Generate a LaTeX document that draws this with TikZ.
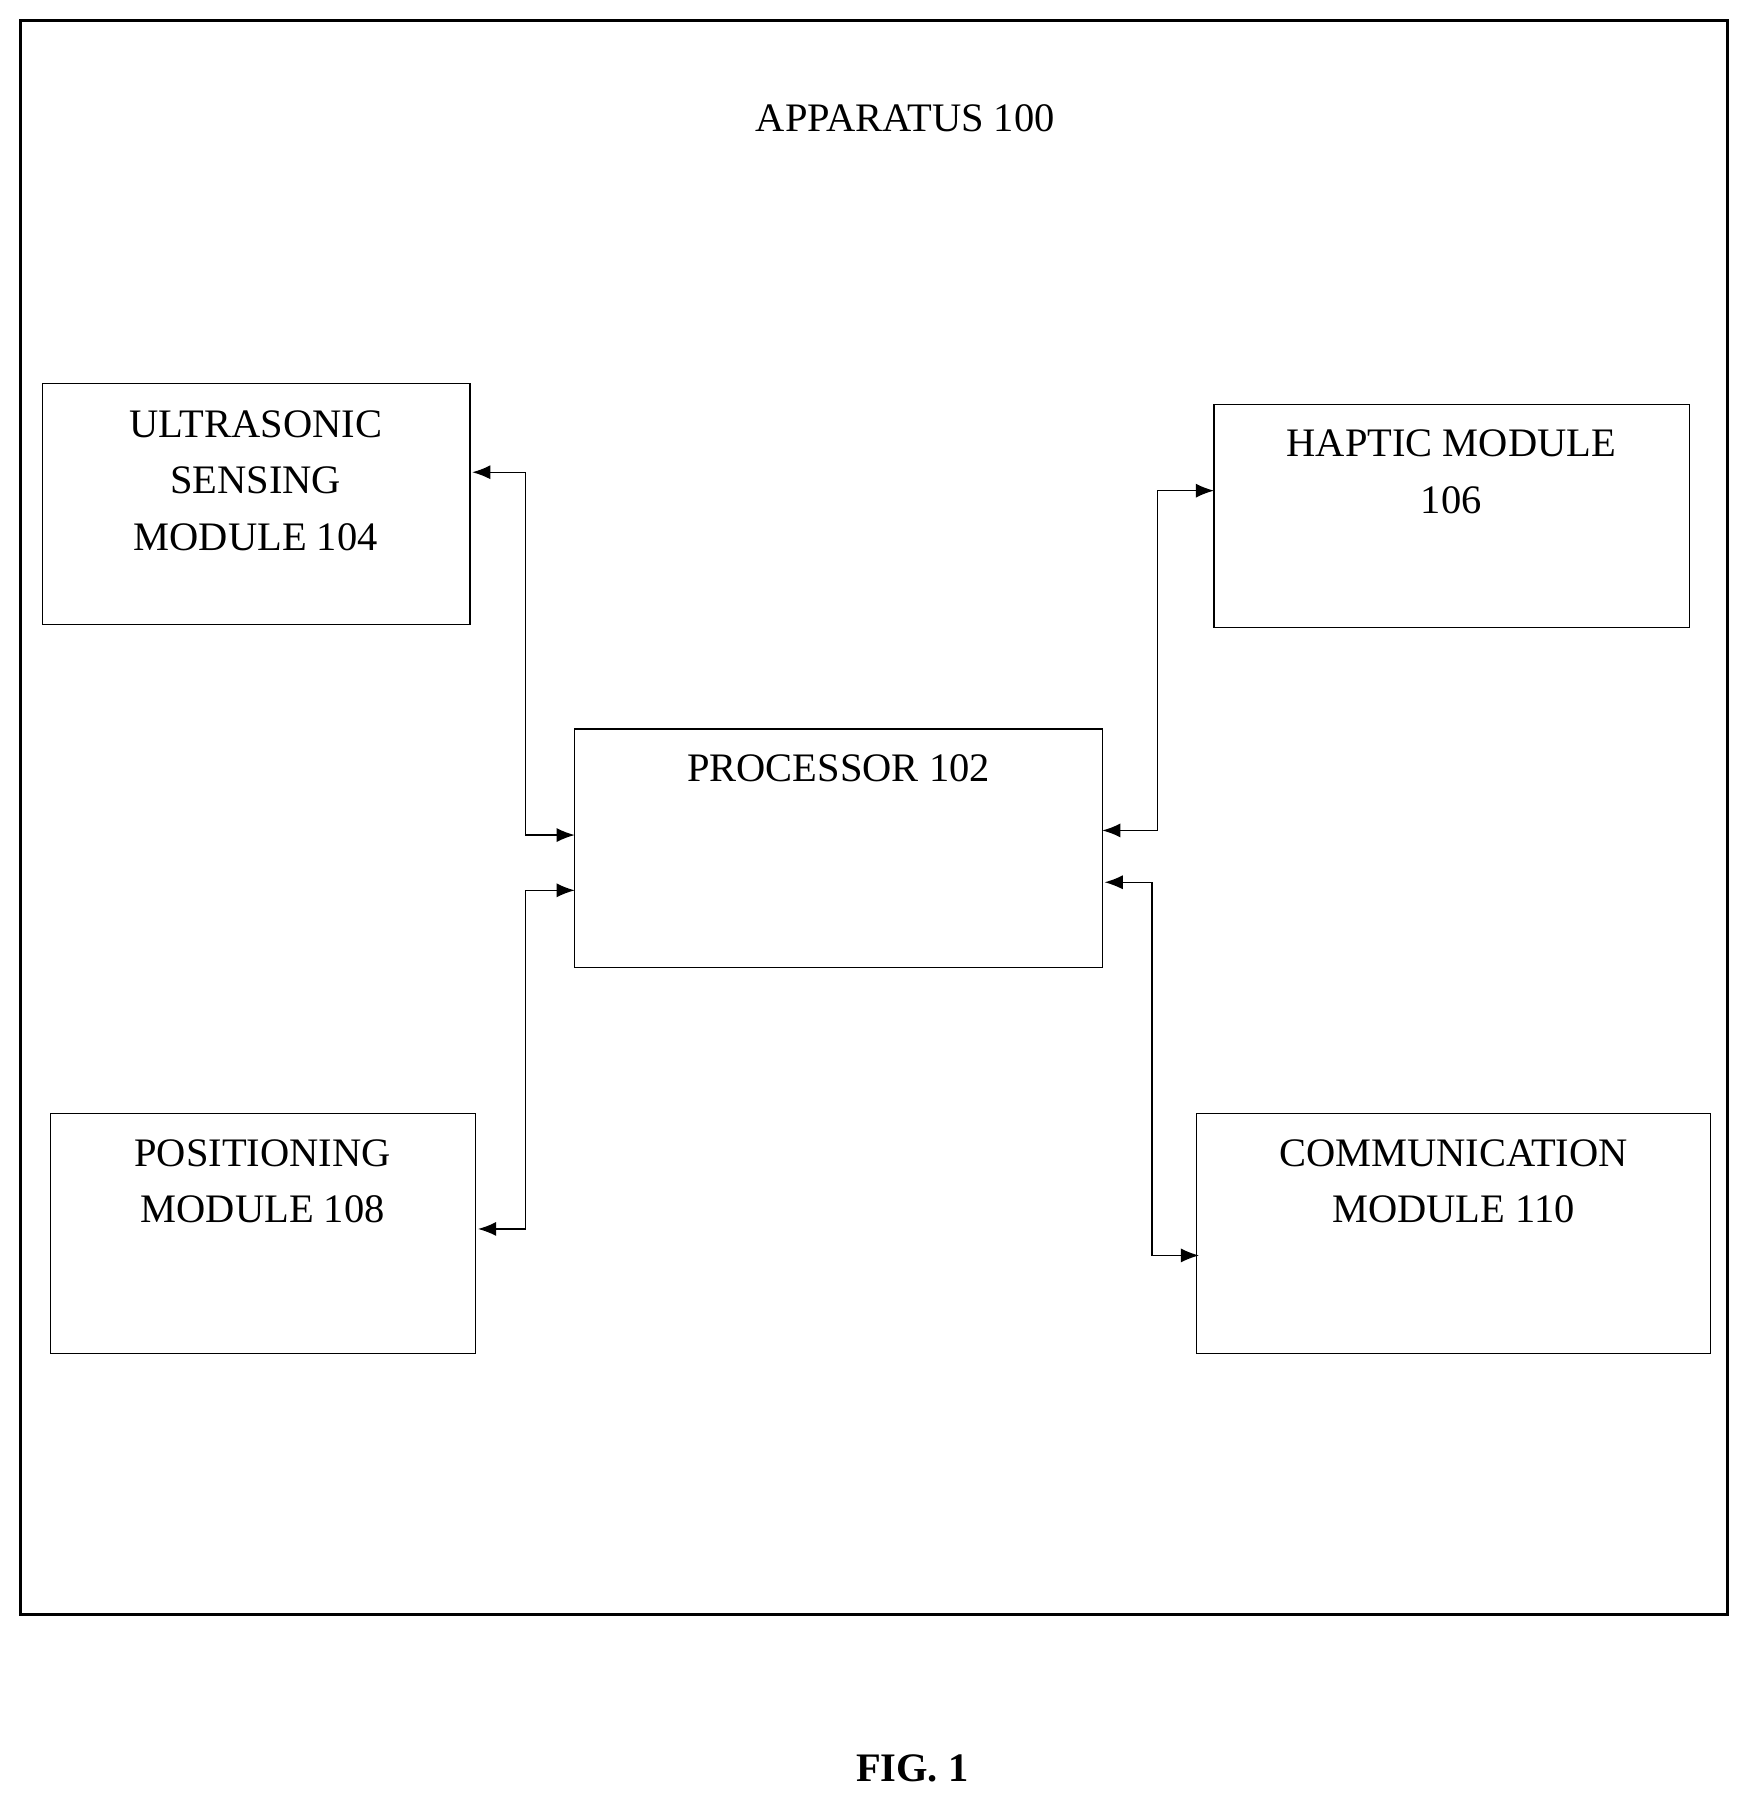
\documentclass[tikz,border=0pt]{standalone}
\usepackage{fontspec}
\setmainfont{Liberation Serif}
\usetikzlibrary{arrows.meta}
\begin{document}
\begin{tikzpicture}[x=0.02cm,y=-0.02cm,
  box/.style={draw,line width=0.7pt},
  lbl/.style={font=\fontsize{20}{28}\selectfont,align=center,anchor=north},
  conn/.style={line width=0.7pt,{Latex[length=9pt,width=7pt]}-{Latex[length=9pt,width=7pt]}}]
\useasboundingbox (0,0) rectangle (1520,1568);
\draw[line width=1.4pt] (18,18) rectangle (1500,1402);
\node[font=\fontsize{20}{28}\selectfont] (title) at (786,103) {APPARATUS 100};
\draw[box] (37,333) rectangle (408,542);
\node[lbl] (us) at (222,350) {ULTRASONIC\\SENSING\\MODULE 104};
\draw[box] (1054,351) rectangle (1467,545);
\node[lbl] (hp) at (1260,367) {HAPTIC MODULE\\106};
\draw[box] (499,633) rectangle (957,840);
\node[lbl] (pr) at (728,649) {PROCESSOR 102};
\draw[box] (44,967) rectangle (413,1175);
\node[lbl] (po) at (228,983) {POSITIONING\\MODULE 108};
\draw[box] (1039,967) rectangle (1485,1175);
\node[lbl] (co) at (1262,983) {COMMUNICATION\\MODULE 110};
\coordinate (a1) at (410,410); \coordinate (a2) at (499,725);
\draw[conn] (a1) -- (456,410) -- (456,725) -- (a2);
\coordinate (b1) at (415,1067); \coordinate (b2) at (499,773);
\draw[conn] (b1) -- (456,1067) -- (456,773) -- (b2);
\coordinate (c1) at (957,721); \coordinate (c2) at (1054,426);
\draw[conn] (c1) -- (1005,721) -- (1005,426) -- (c2);
\coordinate (d1) at (959,766); \coordinate (d2) at (1041,1090);
\draw[conn] (d1) -- (1000,766) -- (1000,1090) -- (d2);
\node[font=\fontsize{20}{24}\selectfont\bfseries] (fig) at (792,1535) {FIG. 1};
\end{tikzpicture}
\end{document}
